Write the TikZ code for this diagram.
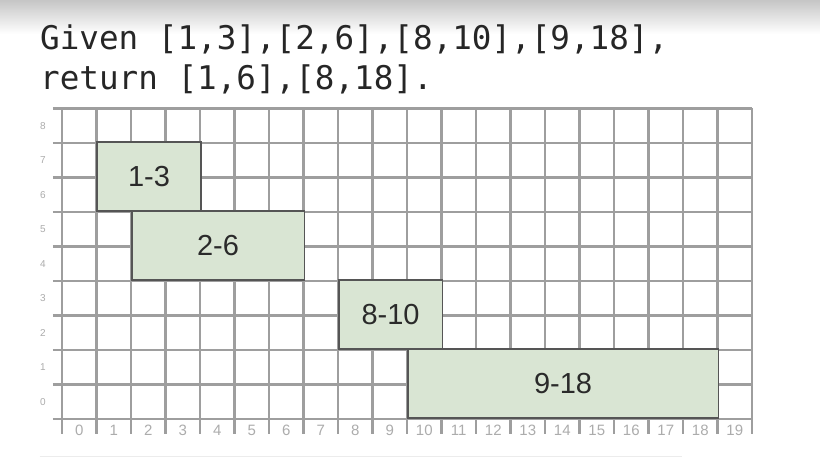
\documentclass[tikz,border=0pt]{standalone}
\usepackage{fontspec}
\setmainfont{Liberation Sans}
\newfontfamily\codefont{DejaVu Sans Mono}
\newfontfamily\boxfont{Liberation Sans}
\definecolor{gridgray}{HTML}{9E9E9E}
\definecolor{boxfill}{HTML}{D9E5D3}
\definecolor{boxline}{HTML}{555555}
\definecolor{labelgray}{HTML}{ACACAC}
\definecolor{textdark}{HTML}{2A2A2A}
\tikzset{
  gridline/.style={draw=gridgray, line width=2.5pt},
  ivbox/.style={draw=boxline, line width=1.6pt, fill=boxfill, anchor=south west,
    inner sep=0pt, minimum height=69pt, text=textdark,
    font=\boxfont\fontsize{29}{29}\selectfont},
  xlab/.style={text=labelgray, font=\fontsize{15}{15}\selectfont, inner sep=0pt},
  ylab/.style={text=labelgray, font=\fontsize{10}{10}\selectfont, inner sep=0pt},
  codeline/.style={anchor=base west, inner sep=0pt, text=black!85,
    font=\codefont\fontsize{32.6}{32.6}\selectfont}
}
\begin{document}
\begin{tikzpicture}[x=34.5pt,y=34.5pt]
\useasboundingbox (-62pt,-41pt) rectangle (758pt,419pt);
\fill[white] (-62pt,-41pt) rectangle (758pt,419pt);
\shade[top color=gray!45, bottom color=white] (-62pt,385pt) rectangle (758pt,419pt);
% faint line near the bottom
\draw[gray!15, line width=1pt] (-22pt,-38pt) -- (620pt,-38pt);
% text
\node[codeline] (l1) at (-22pt,369pt) {Given [1,3],[2,6],[8,10],[9,18],};
\node[codeline] (l2) at (-22pt,329pt) {return [1,6],[8,18].};
% grid
\foreach \j in {0,...,9} \draw[gridline] (-9pt,\j) -- (20,\j);
\foreach \i in {0,...,20} \draw[gridline] (\i,-15pt) -- (\i,9);
% axis labels
\foreach \i in {0,...,19} \node[xlab] (xl\i) at (\i+0.5,-11pt) {\i};
\foreach \j in {0,...,8} \node[ylab] (yl\j) at (-19pt,\j+0.5) {\j};
% intervals
\node[ivbox, minimum width=103.5pt] (b13) at (1,6) {1-3};
\node[ivbox, minimum width=172.5pt] (b26) at (2,4) {2-6};
\node[ivbox, minimum width=103.5pt] (b810) at (8,2) {8-10};
\node[ivbox, minimum width=310.5pt] (b918) at (10,0) {9-18};
\end{tikzpicture}
\end{document}
